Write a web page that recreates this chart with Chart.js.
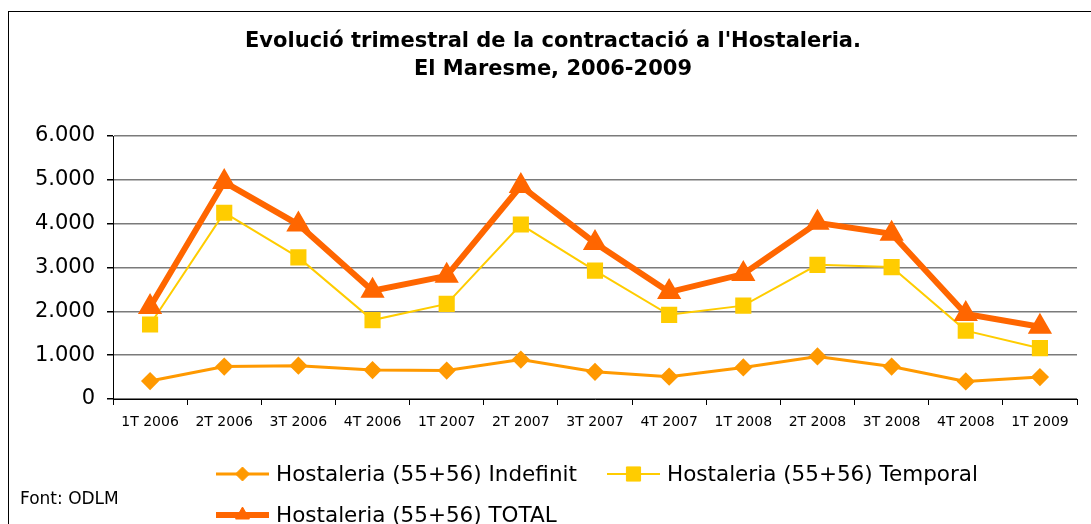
<!DOCTYPE html>
<html><head><meta charset="utf-8">
<script src="https://cdn.jsdelivr.net/npm/chart.js@4.4.1/dist/chart.umd.min.js"></script>
<style>html,body{margin:0;padding:0;background:#fff}#wrap{width:1091px;height:524px;position:relative}canvas{display:block}</style>
</head><body><div id="wrap"><canvas id="c" width="1091" height="524"></canvas></div>
<script>
const categories = ['1T 2006','2T 2006','3T 2006','4T 2006','1T 2007','2T 2007','3T 2007','4T 2007','1T 2008','2T 2008','3T 2008','4T 2008','1T 2009'];
const indefinit = [410,740,760,660,650,900,620,510,720,970,740,400,500];
const temporal  = [1700,4250,3230,1800,2170,3980,2930,1920,2130,3060,3010,1560,1160];
const total     = [2100,4950,3980,2470,2810,4860,3560,2440,2850,4020,3770,1940,1650];
const seriesNames = ['Hostaleria (55+56) Indefinit','Hostaleria (55+56) Temporal','Hostaleria (55+56) TOTAL'];
const yMax = 6000;
const yStep = 1000;
const titleLines = ["Evolució trimestral de la contractació a l'Hostaleria.", 'El Maresme, 2006-2009'];
const sourceNote = 'Font: ODLM';

const fmt = v => String(v).replace(/\B(?=(\d{3})+(?!\d))/g, '.');
const FONT = '"DejaVu Sans", Verdana, sans-serif';

const decor = {
  id: 'decor',
  afterDraw(chart) {
    const ctx = chart.ctx;
    ctx.save();
    ctx.strokeStyle = '#000'; ctx.lineWidth = 1;
    ctx.strokeRect(8.5, 11.5, 1200, 600);
    ctx.fillStyle = '#000'; ctx.textAlign = 'center'; ctx.textBaseline = 'middle';
    ctx.font = 'bold 21px ' + FONT;
    titleLines.forEach((t, i) => ctx.fillText(t, 553, 42 + i * 28));
    ctx.font = '17px ' + FONT; ctx.textAlign = 'left';
    ctx.fillText(sourceNote, 20, 500);
    const slots = [{x:216,y:474},{x:607,y:474},{x:216,y:515}];
    chart.data.datasets.forEach((ds, i) => {
      const s = slots[i];
      ctx.strokeStyle = ds.borderColor; ctx.lineWidth = ds.borderWidth;
      ctx.beginPath(); ctx.moveTo(s.x, s.y); ctx.lineTo(s.x + 53, s.y); ctx.stroke();
      ctx.fillStyle = ds.pointBackgroundColor; ctx.strokeStyle = ds.pointBorderColor; ctx.lineWidth = 1;
      Chart.helpers.drawPoint(ctx, {pointStyle: ds.pointStyle, radius: ds.pointRadius, borderWidth: 1, rotation: 0}, s.x + 26.5, s.y);
      ctx.fillStyle = '#000'; ctx.font = '21.5px ' + FONT; ctx.textAlign = 'left'; ctx.textBaseline = 'middle';
      ctx.fillText(ds.label, s.x + 60, s.y + 1);
    });
    ctx.restore();
  }
};

new Chart(document.getElementById('c'), {
  type: 'line',
  data: {
    labels: categories,
    datasets: [
      {label: seriesNames[0], data: indefinit, borderColor: '#FF9900', backgroundColor: '#FF9900', pointBackgroundColor: '#FF9900', pointBorderColor: '#FF9900', borderWidth: 3, pointStyle: 'rectRot', pointRadius: 7, order: 2},
      {label: seriesNames[1], data: temporal, borderColor: '#FFCC00', backgroundColor: '#FFCC00', pointBackgroundColor: '#FFCC00', pointBorderColor: '#FFCC00', borderWidth: 2, pointStyle: 'rect', pointRadius: 10, order: 1},
      {label: seriesNames[2], data: total, borderColor: '#FF6600', backgroundColor: '#FF6600', pointBackgroundColor: '#FF6600', pointBorderColor: '#FF6600', borderWidth: 6, pointStyle: 'triangle', pointRadius: 8, order: 0}
    ]
  },
  options: {
    responsive: false, animation: false, devicePixelRatio: 1,
    layout: {padding: {top: 136, left: 0, right: 13, bottom: 0}},
    plugins: {legend: {display: false}, title: {display: false}, tooltip: {enabled: false}},
    elements: {line: {tension: 0}, point: {borderWidth: 1}},
    scales: {
      x: {
        offset: true,
        grid: {display: true, drawOnChartArea: false, drawTicks: true, tickLength: 6, color: '#000', offset: true},
        border: {display: true, color: '#000', width: 1},
        ticks: {color: '#000', font: {family: FONT, size: 14}, padding: 9, maxRotation: 0, autoSkip: false},
        afterFit(s) { s.height = 125; }
      },
      y: {
        min: 0, max: yMax,
        grid: {color: '#7a7a7a', lineWidth: 1.5, tickLength: 6, tickColor: '#000'},
        border: {display: true, color: '#000', width: 1},
        ticks: {stepSize: yStep, color: '#000', font: {family: FONT, size: 21}, padding: 12, callback: v => fmt(v)},
        afterFit(s) { s.width = 113; }
      }
    }
  },
  plugins: [decor]
});
</script></body></html>
